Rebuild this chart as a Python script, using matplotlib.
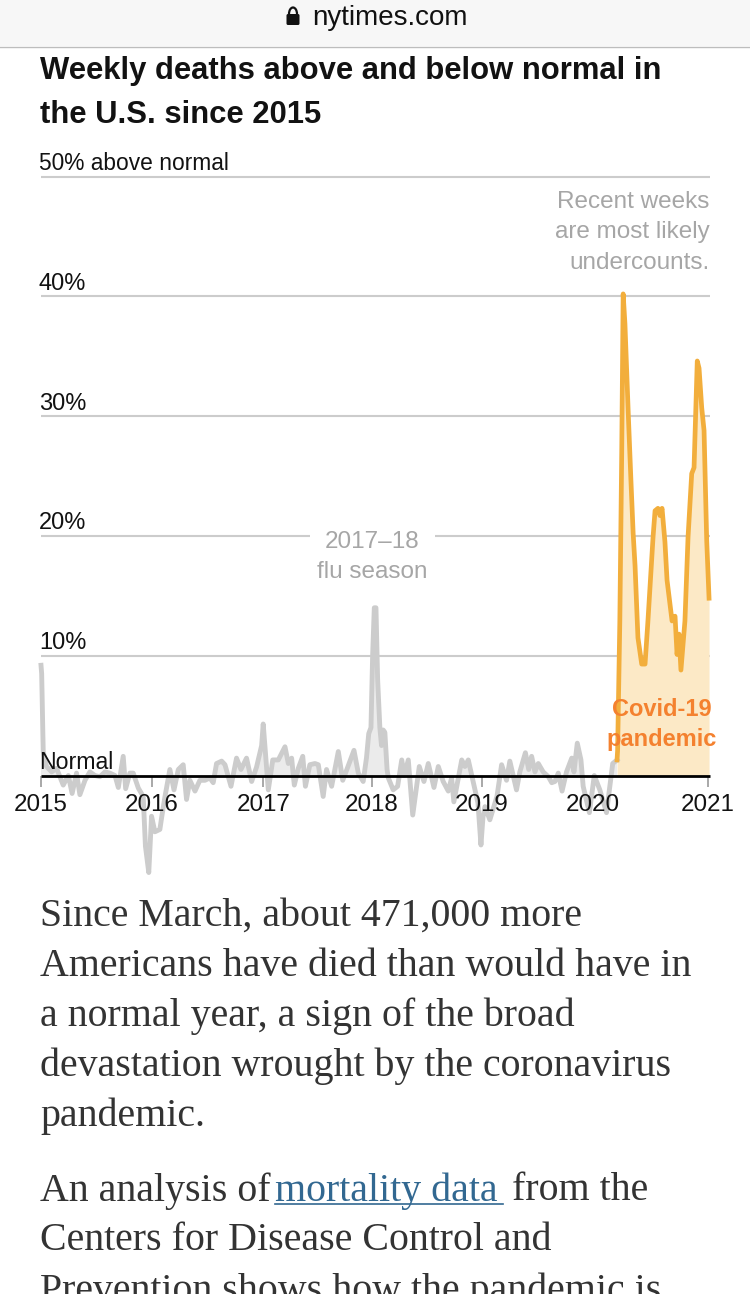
import matplotlib
matplotlib.use('Agg')
import matplotlib.pyplot as plt
from matplotlib.patches import FancyBboxPatch, Arc, Rectangle
import numpy as np

# x = years since start of 2015, y = % above normal
gray_x = [0, .006, .015, .02, .05, .096, .14, .2, .246, .28, .32, .35, .396, .44, .486, .53, .576, .62, .666, .696,
          .74, .762, .80, .83, .876, .92, .94, .97, .995, 1.025, 1.07, 1.086, 1.116, 1.16, 1.197, 1.236, 1.28, 1.31,
          1.34, 1.386, 1.43, 1.476, 1.52, 1.55, 1.58, 1.626, 1.656, 1.71, 1.76, 1.80, 1.85, 1.896, 1.94, 1.986, 2.0,
          2.046, 2.086, 2.136, 2.196, 2.226, 2.256, 2.28, 2.316, 2.356, 2.38, 2.42, 2.466, 2.496, 2.54, 2.57, 2.616,
          2.676, 2.716, 2.757, 2.817, 2.856, 2.90, 2.93, 2.95, 2.97, 2.985, 3.0, 3.015, 3.03, 3.05, 3.065, 3.08,
          3.095, 3.115, 3.126, 3.17, 3.21, 3.247, 3.27, 3.306, 3.346, 3.405, 3.447, 3.486, 3.537, 3.576, 3.62,
          3.666, 3.696, 3.716, 3.787, 3.816, 3.846, 3.906, 3.933, 3.96, 3.978, 3.996, 4.04, 4.104, 4.146, 4.19,
          4.22, 4.28, 4.31, 4.36, 4.39, 4.416, 4.446, 4.476, 4.52, 4.567, 4.597, 4.626, 4.656, 4.69, 4.73, 4.777,
          4.797, 4.827, 4.86, 4.88, 4.936, 4.98, 5.03, 5.09, 5.146, 5.185]
gray_y = [9.2, 8.5, 4, 2, .75, .3, .6, -.8, 0, -1.5, .2, -1.6, -.4, .3, 0, -.1, .3, .2, 0, -1,
          1.6, -1.1, .2, .2, -1.05, -1.75, -5.9, -8.1, -3.4, -4.7, -4.5, -3.5, -1.75, .5, -1.2, .5, .9, -2,
          -.4, -1.3, -.4, -.4, -.2, -.6, 1, 1.2, .9, -.9, 1.45, .5, 1.45, -.5, .7, 2.5, 4.3,
          -1.2, 1.3, 1.3, 2.4, 1, 1.45, -.8, .6, 1.6, -.9, .9, 1, .9, -1.75, .5, -.9,
          2, -.4, .6, 2.1, .2, -.5, 1.5, 3.5, 4, 10, 14, 14, 8, 4, 2.5, 3.8,
          3.6, .5, -.2, -1.2, -.9, 1.3, 0, 1.3, -3.3, .75, -.5, 1, -1, .75, -.5,
          -1.3, -.2, -2.2, 1.3, .75, 1.3, -1.2, -2.3, -5.8, -3.5, -2.6, -3.7, -1.75, .9, -.4,
          1.2, -1.2, .3, 1.9, .5, 1.6, .3, 1, .3, -.1, -.6, -.5, .2, -1.3, .3, 1.45,
          .3, 2.7, 1.3, -.9, -3.1, 0, -1.2, -3.1, 1, 1.3]

covid_x = [5.185, 5.19, 5.21, 5.227, 5.24, 5.256, 5.286, 5.31, 5.33, 5.347, 5.373, 5.407, 5.437, 5.463, 5.509, 5.527,
           5.553, 5.571, 5.59, 5.616, 5.635, 5.68, 5.707, 5.725, 5.743, 5.76, 5.796, 5.824, 5.857, 5.878, 5.907,
           5.923, 5.947, 5.968, 5.992, 6.013]
covid_y = [1.3, 2.1, 12.9, 27, 40.2, 37.7, 30.2, 24.6, 20.2, 17.5, 11.5, 9.3, 9.3, 12.9, 19.9, 22.1,
           22.3, 21.7, 22.3, 19.5, 16.3, 12.9, 13.3, 10.1, 11.8, 8.8, 12.9, 19.9, 25.2, 25.7, 34.6,
           34, 30.7, 28.8, 19.6, 14.8]

grid_vals = [10, 20, 30, 40, 50]
grid_labels = ['10%', '20%', '30%', '40%', '50% above normal']
tick_pos = [0, .995, 2.0, 2.98, 3.97, 4.97, 6.0]
tick_labels = ['2015', '2016', '2017', '2018', '2019', '2020', '2021']

body_lines = ['Since March, about 471,000 more', 'Americans have died than would have in',
              'a normal year, a sign of the broad', 'devastation wrought by the coronavirus', 'pandemic.']

sans = ['Liberation Sans', 'DejaVu Sans']
serif = ['Liberation Serif', 'DejaVu Serif']
body_size = 28.7
body_color = '#333333'

fig = plt.figure(figsize=(7.5, 12.94), dpi=100)

# page layer in pixels
page = fig.add_axes([0, 0, 1, 1], zorder=1)
page.set_xlim(0, 750)
page.set_ylim(1294, 0)
page.axis('off')

page.add_patch(Rectangle((0, 0), 750, 46, color='#f7f7f7', lw=0))
page.plot([0, 750], [46.5, 46.5], color='#bdbdbd', lw=1)
page.add_patch(FancyBboxPatch((286.5, 14), 13, 11, boxstyle='round,pad=0,rounding_size=1.5', color='#111', lw=0))
page.add_patch(Arc((293, 14), 8, 13, theta1=180, theta2=360, color='#111', lw=1.6))
page.text(390, 18, 'nytimes.com', family=sans, fontsize=20, ha='center', va='center', color='#111')

page.text(40, 71, 'Weekly deaths above and below normal in', family=sans, fontsize=22.3, weight='bold',
          va='center', color='#121212')
page.text(40, 115, 'the U.S. since 2015', family=sans, fontsize=22.3, weight='bold', va='center', color='#121212')

for i, line in enumerate(body_lines):
    page.text(40, 916 + i * 50, line, family=serif, fontsize=body_size, va='center', color=body_color)

page.text(40, 1191, 'An analysis of', family=serif, fontsize=body_size, va='center', color=body_color)
page.text(275, 1191, 'mortality data', family=serif, fontsize=body_size, va='center', color='#326891')
page.plot([275, 503], [1204, 1204], color='#326891', lw=1.2)
page.text(512, 1191, 'from the', family=serif, fontsize=body_size, va='center', color=body_color)
page.text(40, 1241, 'Centers for Disease Control and', family=serif, fontsize=body_size, va='center', color=body_color)
page.text(40, 1291, 'Prevention shows how the pandemic is', family=serif, fontsize=body_size, va='center', color=body_color)

# chart layer, scaled to the picture
ax = fig.add_axes([0, 0, 1, 1], zorder=2)
ax.patch.set_alpha(0)
ax.axis('off')
ax.set_xlim(-41 / 111.1, 709 / 111.1)
ax.set_ylim((775.5 - 1294) / 11.98, 775.5 / 11.98)

ax.hlines(grid_vals, 0, 6.02, color='#cccccc', lw=1.5, zorder=1)
for v, lab in zip(grid_vals, grid_labels):
    size = 16.4 if v == 50 else 17
    ax.text(-.02, v + .12, lab, family=sans, fontsize=size, va='bottom', color='#121212', zorder=6)
ax.text(-.02, .12, 'Normal', family=sans, fontsize=16.7, va='bottom', color='#121212', zorder=6)

ax.fill_between(gray_x, gray_y, 0, where=np.array(gray_y) > 0, interpolate=True, color='#ebebeb', lw=0, zorder=2)
ax.fill_between(covid_x, covid_y, 0, color='#fce9c6', lw=0, zorder=2)
ax.plot(gray_x, gray_y, color='#cccccc', lw=3.5, solid_joinstyle='round', zorder=3)
ax.plot(covid_x, covid_y, color='#f2ae3c', lw=3.4, solid_joinstyle='round', zorder=4)
ax.hlines(0, 0, 6.02, color='#000000', lw=2, zorder=5)
ax.vlines(tick_pos, -1, 0, color='#999999', lw=1.2, zorder=2)
for p, lab in zip(tick_pos, tick_labels):
    ax.text(p, -2.5, lab, family=sans, fontsize=17.4, ha='center', va='center', color='#121212', zorder=6)

ax.text(2.98, 20.45, '2017–18\nflu season', family=sans, fontsize=17.5, ha='center', va='top', color='#a6a6a6',
        linespacing=1.48, bbox=dict(fc='white', ec='none', boxstyle='square,pad=0.3'), zorder=2)
ax.text(6.02, 48.8, 'Recent weeks\nare most likely\nundercounts.', family=sans, fontsize=17.5, ha='right', va='top',
        color='#a6a6a6', linespacing=1.5, zorder=6)
ax.text(5.59, 4.25, 'Covid-19\npandemic', family=sans, fontsize=17, weight='bold', ha='center', va='center',
        color='#f4812f', linespacing=1.4, zorder=6)

fig.savefig('out.png', dpi=100)
